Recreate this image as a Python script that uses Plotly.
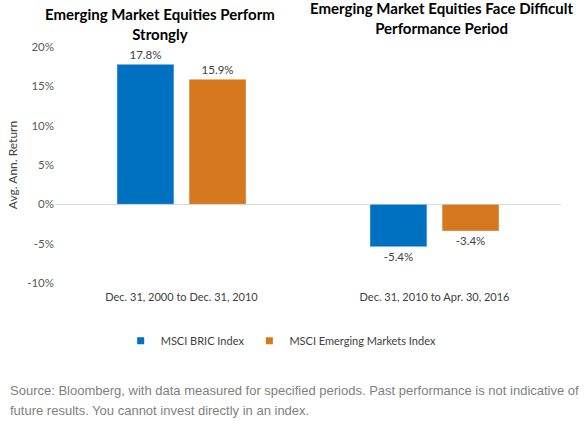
import plotly.graph_objects as go

periods = ["Dec. 31, 2000 to Dec. 31, 2010", "Dec. 31, 2010 to Apr. 30, 2016"]
bric = [17.8, -5.4]
em = [15.9, -3.4]
series_names = ["MSCI BRIC Index", "MSCI Emerging Markets Index"]
colors = ["#0070C0", "#D6781E"]
tick_vals = [-10, -5, 0, 5, 10, 15, 20]
tick_text = ["-10%", "-5%", "0%", "5%", "10%", "15%", "20%"]
titles = ["Emerging Market Equities Perform<br>Strongly",
          "Emerging Market Equities Face Difficult<br>Performance Period"]
source_lines = ["Source: Bloomberg, with data measured for specified periods. Past performance is not indicative of",
                "future results. You cannot invest directly in an index."]

FONT = "Lato, 'Open Sans', sans-serif"
fig = go.Figure()
for name, vals, c in zip(series_names, [bric, em], colors):
    fig.add_trace(go.Bar(
        x=periods, y=vals, name=name, marker_color=c, showlegend=False,
        text=[f"{v:.1f}%" for v in vals], textposition="outside",
        textfont=dict(family=FONT, size=11.5, color="#404040"), cliponaxis=False,
    ))
    fig.add_trace(go.Scatter(
        x=[None], y=[None], mode="markers", name=name,
        marker=dict(symbol="square", size=7, color=c),
    ))

fig.update_layout(
    width=585, height=427,
    margin=dict(l=55, r=24, t=47, b=144),
    paper_bgcolor="white", plot_bgcolor="white",
    barmode="group", bargap=0.43, bargroupgap=0.21,
    font=dict(family=FONT, size=11, color="#595959"),
    legend=dict(orientation="h", x=0.447, xanchor="center", y=-0.245, yanchor="middle",
                font=dict(family=FONT, size=11, color="#404040"), itemwidth=30,
                traceorder="normal"),
)
fig.update_yaxes(range=[-10, 20], tickvals=tick_vals, ticktext=tick_text,
                 showgrid=False, zeroline=True, zerolinecolor="#D9D9D9", zerolinewidth=1,
                 showline=False, ticks="", automargin=False,
                 title=dict(text="Avg. Ann. Return", font=dict(family=FONT, size=12, color="#404040"), standoff=6),
                 tickfont=dict(family=FONT, size=11.5, color="#595959"))
fig.update_xaxes(showgrid=False, showline=False, ticks="", automargin=False, ticklabelstandoff=6,
                 tickfont=dict(family=FONT, size=11, color="#404040"))

title_pos = [(160, 24), (442, 18)]
for t, (px, py) in zip(titles, title_pos):
    fig.add_annotation(text=f"<b>{t}</b>", xref="paper", yref="paper",
                       x=(px - 55) / 506, y=(283 - py) / 236, xanchor="center", yanchor="middle",
                       showarrow=False, font=dict(family=FONT, size=15, color="#000000"))

for i, line in enumerate(source_lines):
    fig.add_annotation(text=line, xref="paper", yref="paper",
                       x=(8 - 55) / 506, y=(283 - (390 + 20 * i)) / 236, xanchor="left", yanchor="middle",
                       showarrow=False,
                       font=dict(family="'Liberation Sans', sans-serif", size=13, color="#7F7F7F"))

fig.write_html("out.html", config={"displayModeBar": False},
               post_script="document.body.style.margin='0';document.body.style.overflow='hidden';")
